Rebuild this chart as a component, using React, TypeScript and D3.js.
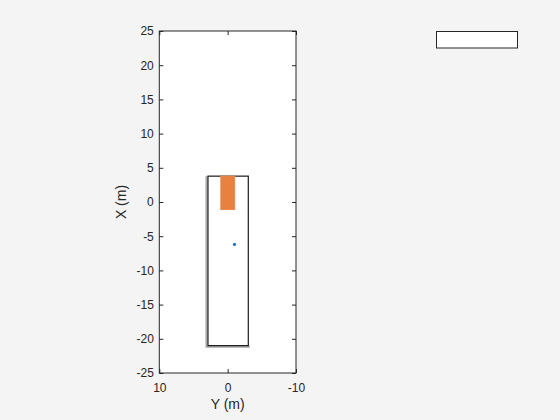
import React, { useEffect, useRef } from 'react';
import * as d3 from 'd3';

// axis limits (Y is lateral, drawn reversed on the horizontal axis)
const yLimits: [number, number] = [10, -10];
const xLimits: [number, number] = [-25, 25];
const yTicks = [10, 0, -10];
const xTicks = [-25, -20, -15, -10, -5, 0, 5, 10, 15, 20, 25];

// road area outline (lateral Y, longitudinal X)
const roadY = [2.88, -3.02];
const roadX = [-21.0, 3.78];
// gray edge of the road (left side and far end)
const edgeLine: [number, number][] = [
    [3.1, 3.78],
    [3.1, -21.16],
    [-3.25, -21.16],
];

// ego vehicle footprint
const egoY = [1.0, -1.03];
const egoX = [-1.1, 3.78];

// detections
const detections: [number, number][] = [[-1.0, -6.2]];

const App: React.FC = () => {
    const ref = useRef<SVGSVGElement>(null);

    useEffect(() => {
        const width = 560;
        const height = 420;
        const margin = { top: 31, right: 264, bottom: 47, left: 159.3 };
        const axisColor = '#262626';
        const font = 'Liberation Sans, Arial, Helvetica, sans-serif';

        const svg = d3.select(ref.current);
        svg.selectAll('*').remove();
        svg.attr('width', width).attr('height', height);

        svg.append('rect')
            .attr('width', width)
            .attr('height', height)
            .attr('fill', '#f4f4f4');

        const xScale = d3
            .scaleLinear()
            .domain(yLimits)
            .range([margin.left, width - margin.right]);
        const yScale = d3
            .scaleLinear()
            .domain(xLimits)
            .range([height - margin.bottom, margin.top]);

        const [x0, x1] = xScale.range();
        const [y0, y1] = [yScale(xLimits[1]), yScale(xLimits[0])];

        // plot background
        svg.append('rect')
            .attr('x', x0)
            .attr('y', y0)
            .attr('width', x1 - x0)
            .attr('height', y1 - y0)
            .attr('fill', '#ffffff');

        // road edge
        const line = d3
            .line<[number, number]>()
            .x((d) => xScale(d[0]))
            .y((d) => yScale(d[1]));
        svg.append('path')
            .attr('d', line(edgeLine))
            .attr('fill', 'none')
            .attr('stroke', '#a8a8a8')
            .attr('stroke-width', 2);

        // road outline
        svg.append('rect')
            .attr('x', xScale(roadY[0]))
            .attr('y', yScale(roadX[1]))
            .attr('width', xScale(roadY[1]) - xScale(roadY[0]))
            .attr('height', yScale(roadX[0]) - yScale(roadX[1]))
            .attr('fill', 'none')
            .attr('stroke', '#1a1a1a')
            .attr('stroke-width', 1.2);

        // ego vehicle
        svg.append('rect')
            .attr('x', xScale(egoY[0]))
            .attr('y', yScale(egoX[1]))
            .attr('width', xScale(egoY[1]) - xScale(egoY[0]))
            .attr('height', yScale(egoX[0]) - yScale(egoX[1]))
            .attr('fill', '#e8803f')
            .attr('stroke', '#ec8a4e')
            .attr('stroke-width', 1);

        // detections
        svg.selectAll('circle.det')
            .data(detections)
            .enter()
            .append('circle')
            .attr('class', 'det')
            .attr('cx', (d) => xScale(d[0]))
            .attr('cy', (d) => yScale(d[1]))
            .attr('r', 1.6)
            .attr('fill', '#1f77c9');

        // axes box
        svg.append('rect')
            .attr('x', x0)
            .attr('y', y0)
            .attr('width', x1 - x0)
            .attr('height', y1 - y0)
            .attr('fill', 'none')
            .attr('stroke', axisColor)
            .attr('stroke-width', 1);

        const tickLen = 4;
        const bottomAxis = svg
            .append('g')
            .attr('transform', `translate(0,${y1})`)
            .call(d3.axisBottom(xScale).tickValues(yTicks).tickSize(-tickLen).tickPadding(10));
        const topAxis = svg
            .append('g')
            .attr('transform', `translate(0,${y0})`)
            .call(d3.axisTop(xScale).tickValues(yTicks).tickSize(-tickLen).tickFormat(() => ''));
        const leftAxis = svg
            .append('g')
            .attr('transform', `translate(${x0},0)`)
            .call(d3.axisLeft(yScale).tickValues(xTicks).tickSize(-tickLen).tickPadding(5.5));
        const rightAxis = svg
            .append('g')
            .attr('transform', `translate(${x1},0)`)
            .call(d3.axisRight(yScale).tickValues(xTicks).tickSize(-tickLen).tickFormat(() => ''));

        [bottomAxis, topAxis, leftAxis, rightAxis].forEach((g) => {
            g.select('.domain').remove();
            g.selectAll('line').attr('stroke', axisColor);
            g.selectAll('text')
                .attr('fill', axisColor)
                .style('font-family', font)
                .style('font-size', '12px');
        });
        bottomAxis.selectAll('text').text((d) => String(d));
        leftAxis.selectAll('text').text((d) => String(d));

        // axis labels
        svg.append('text')
            .attr('x', (x0 + x1) / 2)
            .attr('y', 408.5)
            .attr('text-anchor', 'middle')
            .attr('fill', axisColor)
            .style('font-family', font)
            .style('font-size', '14px')
            .text('Y (m)');

        svg.append('text')
            .attr('transform', `translate(126,${(y0 + y1) / 2}) rotate(-90)`)
            .attr('text-anchor', 'middle')
            .attr('fill', axisColor)
            .style('font-family', font)
            .style('font-size', '14px')
            .text('X (m)');

        // empty legend box
        svg.append('rect')
            .attr('x', 436.5)
            .attr('y', 31.5)
            .attr('width', 81)
            .attr('height', 16.5)
            .attr('fill', '#ffffff')
            .attr('stroke', axisColor)
            .attr('stroke-width', 1);
    }, []);

    return (
        <div style={{ position: 'absolute', left: 0, top: 0 }}>
            <svg ref={ref}></svg>
        </div>
    );
};

export default App;
